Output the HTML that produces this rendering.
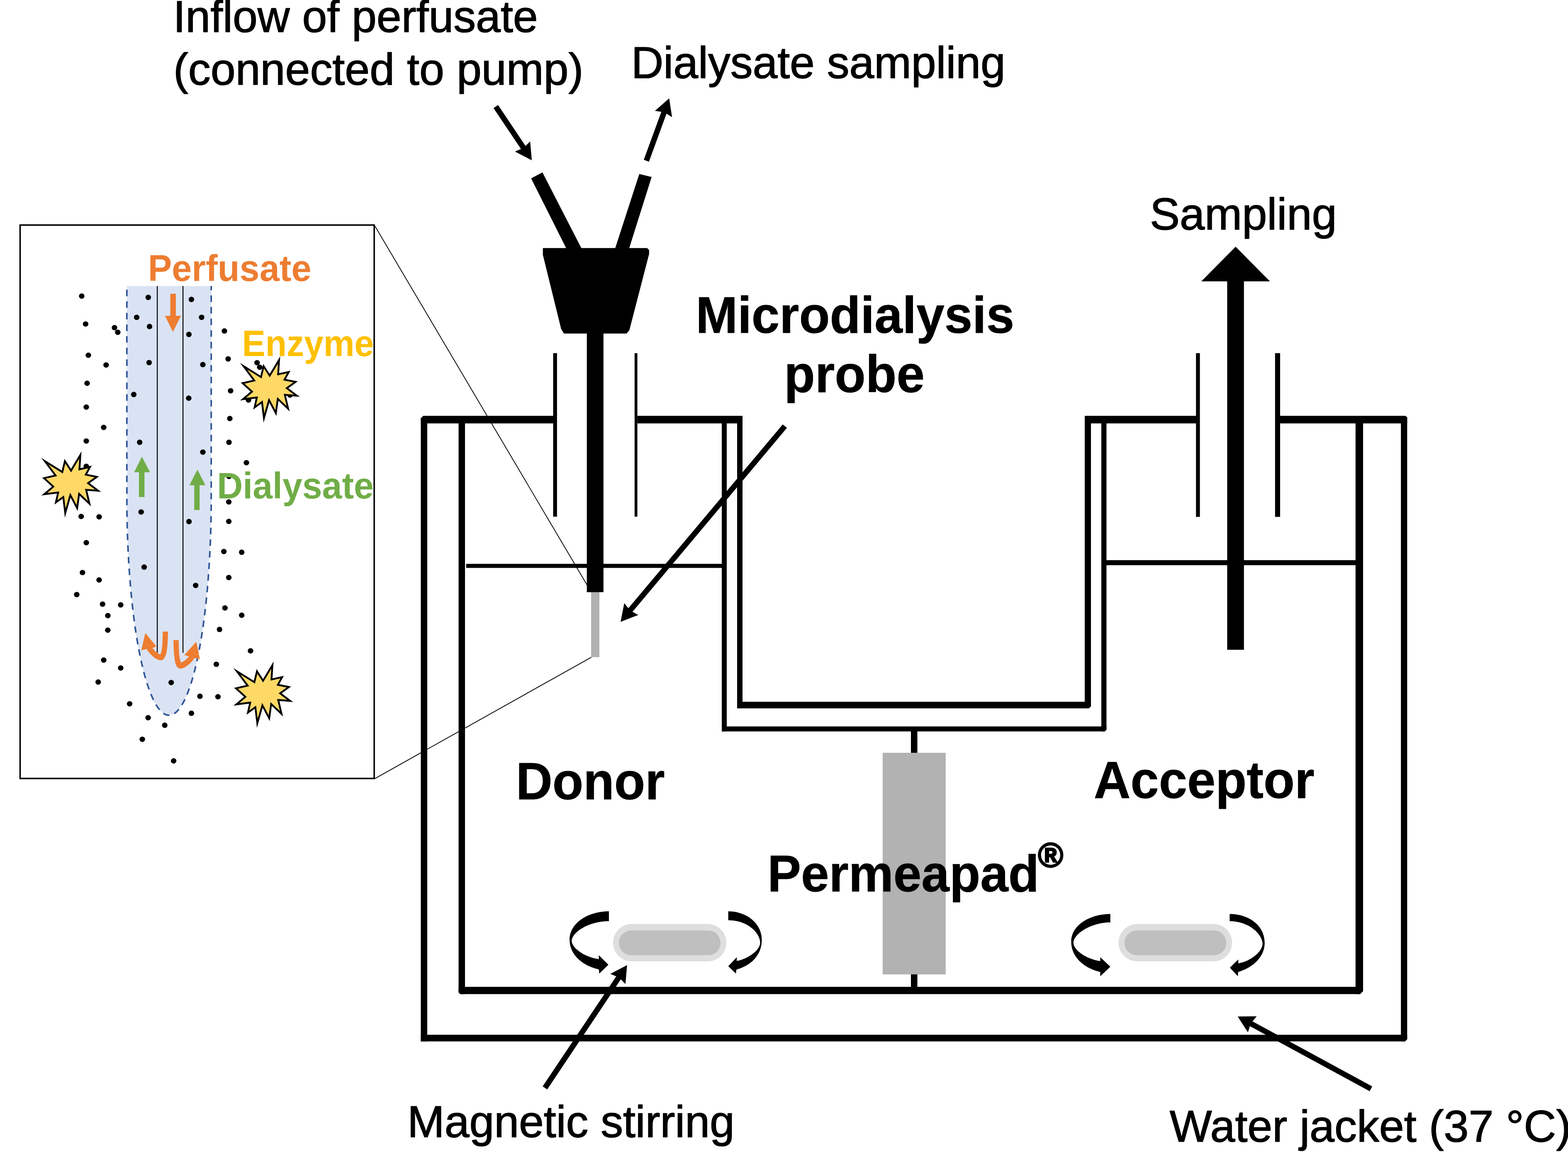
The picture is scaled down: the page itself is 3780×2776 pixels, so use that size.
<!DOCTYPE html>
<html lang="en"><head><meta charset="utf-8"><title>Microdialysis probe in side-by-side diffusion cell</title>
<style>
html,body{margin:0;padding:0;background:#fff;}
html,body{width:3780px;height:2776px;}
svg{display:block;font-family:'Liberation Sans', Arial, Helvetica, sans-serif;}
</style></head><body>
<svg width="3780" height="2776" viewBox="0 0 3780 2776">
<rect width="3780" height="2776" fill="#fff"/>
<g id="inset">
<line x1="904" y1="545" x2="1425.5" y2="1427" stroke="#000" stroke-width="1.9"/>
<line x1="903.5" y1="1876.3" x2="1425.5" y2="1583.8" stroke="#000" stroke-width="1.9"/>
<rect x="48.5" y="542.3" width="853.6" height="1333.6" fill="#fff" stroke="#000" stroke-width="3.6"/>
<path d="M305.8,689.2 L305.8,1200 A101.7,523.6 0 0 0 509.2,1200 L509.2,689.2 Z" fill="#dae3f3"/>
<path d="M305.8,689.2 L305.8,1200 A101.7,523.6 0 0 0 509.2,1200 L509.2,689.2" fill="none" stroke="#2f5597" stroke-width="3.8" stroke-dasharray="15.6 12.4" stroke-dashoffset="19.1"/>
<line x1="379.1" y1="689.2" x2="379.1" y2="1572.5" stroke="#000" stroke-width="2.3"/>
<line x1="441.1" y1="689.2" x2="441.1" y2="1573" stroke="#000" stroke-width="2.3"/>
<g fill="#000">
<ellipse cx="197.0" cy="713.5" rx="6.7" ry="6.5"/>
<ellipse cx="357.4" cy="716.6" rx="6.7" ry="6.5"/>
<ellipse cx="461.4" cy="721.6" rx="6.7" ry="6.5"/>
<ellipse cx="329.5" cy="764.7" rx="6.7" ry="6.5"/>
<ellipse cx="486.0" cy="764.7" rx="6.7" ry="6.5"/>
<ellipse cx="206.4" cy="780.7" rx="6.7" ry="6.5"/>
<ellipse cx="276.0" cy="789.6" rx="6.7" ry="6.5"/>
<ellipse cx="283.9" cy="800.7" rx="6.7" ry="6.5"/>
<ellipse cx="360.5" cy="786.8" rx="6.7" ry="6.5"/>
<ellipse cx="455.4" cy="805.8" rx="6.7" ry="6.5"/>
<ellipse cx="541.0" cy="797.6" rx="6.7" ry="6.5"/>
<ellipse cx="213.0" cy="856.0" rx="6.7" ry="6.5"/>
<ellipse cx="255.8" cy="879.4" rx="6.7" ry="6.5"/>
<ellipse cx="359.4" cy="873.7" rx="6.7" ry="6.5"/>
<ellipse cx="489.0" cy="878.6" rx="6.7" ry="6.5"/>
<ellipse cx="550.0" cy="864.8" rx="6.7" ry="6.5"/>
<ellipse cx="619.7" cy="874.0" rx="6.7" ry="6.5"/>
<ellipse cx="626.0" cy="885.0" rx="6.7" ry="6.5"/>
<ellipse cx="210.0" cy="923.5" rx="6.7" ry="6.5"/>
<ellipse cx="322.5" cy="950.6" rx="6.7" ry="6.5"/>
<ellipse cx="455.0" cy="959.5" rx="6.7" ry="6.5"/>
<ellipse cx="556.0" cy="941.7" rx="6.7" ry="6.5"/>
<ellipse cx="599.0" cy="964.0" rx="6.7" ry="6.5"/>
<ellipse cx="699.0" cy="952.0" rx="6.7" ry="6.5"/>
<ellipse cx="208.0" cy="981.0" rx="6.7" ry="6.5"/>
<ellipse cx="554.0" cy="1008.5" rx="6.7" ry="6.5"/>
<ellipse cx="250.0" cy="1030.0" rx="6.7" ry="6.5"/>
<ellipse cx="208.0" cy="1062.7" rx="6.7" ry="6.5"/>
<ellipse cx="336.7" cy="1065.8" rx="6.7" ry="6.5"/>
<ellipse cx="552.0" cy="1065.8" rx="6.7" ry="6.5"/>
<ellipse cx="489.0" cy="1089.4" rx="6.7" ry="6.5"/>
<ellipse cx="594.0" cy="1115.0" rx="6.7" ry="6.5"/>
<ellipse cx="208.0" cy="1123.7" rx="6.7" ry="6.5"/>
<ellipse cx="552.0" cy="1148.0" rx="6.7" ry="6.5"/>
<ellipse cx="551.6" cy="1209.5" rx="6.7" ry="6.5"/>
<ellipse cx="340.2" cy="1233.7" rx="6.7" ry="6.5"/>
<ellipse cx="195.7" cy="1244.5" rx="6.7" ry="6.5"/>
<ellipse cx="239.0" cy="1245.4" rx="6.7" ry="6.5"/>
<ellipse cx="455.6" cy="1256.8" rx="6.7" ry="6.5"/>
<ellipse cx="551.6" cy="1256.5" rx="6.7" ry="6.5"/>
<ellipse cx="208.0" cy="1307.7" rx="6.7" ry="6.5"/>
<ellipse cx="539.6" cy="1329.0" rx="6.7" ry="6.5"/>
<ellipse cx="582.7" cy="1330.8" rx="6.7" ry="6.5"/>
<ellipse cx="347.5" cy="1366.6" rx="6.7" ry="6.5"/>
<ellipse cx="198.8" cy="1379.7" rx="6.7" ry="6.5"/>
<ellipse cx="238.9" cy="1397.5" rx="6.7" ry="6.5"/>
<ellipse cx="551.6" cy="1391.7" rx="6.7" ry="6.5"/>
<ellipse cx="471.7" cy="1410.7" rx="6.7" ry="6.5"/>
<ellipse cx="185.0" cy="1432.7" rx="6.7" ry="6.5"/>
<ellipse cx="247.3" cy="1455.8" rx="6.7" ry="6.5"/>
<ellipse cx="291.0" cy="1457.6" rx="6.7" ry="6.5"/>
<ellipse cx="542.3" cy="1465.0" rx="6.7" ry="6.5"/>
<ellipse cx="260.0" cy="1483.4" rx="6.7" ry="6.5"/>
<ellipse cx="582.7" cy="1482.5" rx="6.7" ry="6.5"/>
<ellipse cx="259.8" cy="1518.5" rx="6.7" ry="6.5"/>
<ellipse cx="529.2" cy="1516.8" rx="6.7" ry="6.5"/>
<ellipse cx="604.0" cy="1568.3" rx="6.7" ry="6.5"/>
<ellipse cx="250.0" cy="1590.6" rx="6.7" ry="6.5"/>
<ellipse cx="521.5" cy="1600.7" rx="6.7" ry="6.5"/>
<ellipse cx="291.0" cy="1609.7" rx="6.7" ry="6.5"/>
<ellipse cx="236.7" cy="1643.5" rx="6.7" ry="6.5"/>
<ellipse cx="412.7" cy="1644.7" rx="6.7" ry="6.5"/>
<ellipse cx="482.0" cy="1677.8" rx="6.7" ry="6.5"/>
<ellipse cx="525.4" cy="1679.0" rx="6.7" ry="6.5"/>
<ellipse cx="312.5" cy="1696.0" rx="6.7" ry="6.5"/>
<ellipse cx="461.4" cy="1718.8" rx="6.7" ry="6.5"/>
<ellipse cx="357.1" cy="1729.5" rx="6.7" ry="6.5"/>
<ellipse cx="397.2" cy="1747.6" rx="6.7" ry="6.5"/>
<ellipse cx="343.0" cy="1781.4" rx="6.7" ry="6.5"/>
<ellipse cx="418.6" cy="1833.5" rx="6.7" ry="6.5"/>
</g>
<polygon points="650.2,905.1 672.7,867.5 670.5,902.0 696.0,896.4 685.9,914.9 712.5,920.2 691.4,935.4 715.5,953.6 686.7,951.4 694.6,984.8 669.7,961.2 665.0,995.4 648.6,964.3 636.3,1007.5 631.6,968.8 613.8,981.7 619.2,957.8 585.8,962.0 607.5,943.8 585.0,923.3 613.0,916.9 587.2,882.4 629.2,908.5 635.5,882.4" fill="#ffd966" stroke="#000" stroke-width="4.4" stroke-linejoin="miter" stroke-miterlimit="10"/>
<polygon points="171.2,1134.0 193.7,1096.4 191.5,1130.9 217.0,1125.3 206.9,1143.8 233.5,1149.1 212.4,1164.3 236.5,1182.5 207.7,1180.3 215.6,1213.7 190.7,1190.1 186.0,1224.3 169.6,1193.2 157.3,1236.4 152.6,1197.7 134.8,1210.6 140.2,1186.7 106.8,1190.9 128.5,1172.7 106.0,1152.2 134.0,1145.8 108.2,1111.3 150.2,1137.4 156.5,1111.3" fill="#ffd966" stroke="#000" stroke-width="4.4" stroke-linejoin="miter" stroke-miterlimit="10"/>
<polygon points="634.2,1640.4 656.7,1602.8 654.5,1637.3 680.0,1631.7 669.9,1650.2 696.5,1655.5 675.4,1670.7 699.5,1688.9 670.7,1686.7 678.6,1720.1 653.7,1696.5 649.0,1730.7 632.6,1699.6 620.3,1742.8 615.6,1704.1 597.8,1717.0 603.2,1693.1 569.8,1697.3 591.5,1679.1 569.0,1658.6 597.0,1652.2 571.2,1617.7 613.2,1643.8 619.5,1617.7" fill="#ffd966" stroke="#000" stroke-width="4.4" stroke-linejoin="miter" stroke-miterlimit="10"/>
<polygon points="410.6,707.7 423.9,707.7 423.9,760.9 436.2,760.9 416.9,799.8 397.6,760.9 410.6,760.9" fill="#ed7d31" />
<polygon points="342.0,1100.5 361.6,1138.0 348.3,1138.0 348.3,1197.8 335.0,1197.8 335.0,1138.0 323.4,1138.0" fill="#70ad47" />
<polygon points="476.0,1131.4 495.0,1169.3 481.2,1169.3 481.2,1229.1 468.2,1229.1 468.2,1169.3 456.7,1169.3" fill="#70ad47" />
<path d="M405.1,1522 C404.6,1540 404.2,1553 402.7,1563.1 C401.5,1572 400.5,1578 397.8,1582.7 C395.5,1587.5 392.5,1591 388,1591 C381,1591 374,1586.5 368.4,1581.7 C363,1577 358.5,1572 353.3,1564.1 L340.6,1567.3 L350.2,1525.5 L377.2,1557.7 L367.5,1561.2 C370,1564.5 372.5,1567.5 375.3,1570 C379,1573.2 382.5,1575.5 386.5,1577.3 C389,1571 390.2,1565 390.9,1558.2 C391.8,1549 392.2,1536 392.4,1522 Z" fill="#ed7d31"/>
<path d="M418.1,1542.6 C418.4,1558 419,1572 420.3,1582.7 C421.2,1591 422.2,1597.5 424.2,1602.2 C426.5,1607.5 430,1611 434.9,1611 C441,1611 447,1607.5 452.5,1603.2 C458,1598.9 463.5,1593.5 469.2,1585.6 L481.9,1588 L473.1,1546.5 L444.7,1578.3 L455.5,1582.2 C452.8,1585.3 449.8,1588 446.7,1590.5 C443.3,1593.2 440,1595.3 436.4,1596.8 C434,1591 432.7,1585 432,1577.8 C431.2,1568 430.9,1556 430.8,1542.6 Z" fill="#ed7d31"/>
<text transform="translate(356.65,677.40) scale(0.8643,0.8850)" font-size="100" font-weight="bold" fill="#ed7d31">Perfusate</text>
<text transform="translate(583.61,857.90) scale(0.8409,0.8950)" font-size="100" font-weight="bold" fill="#ffc000">Enzyme</text>
<text transform="translate(523.18,1200.50) scale(0.8601,0.8950)" font-size="100" font-weight="bold" fill="#70ad47">Dialysate</text>
</g>
<g id="cell" fill="#000">
<rect x="1014.5" y="1002.0" width="15.5" height="1507.5" fill="#000" />
<rect x="1014.5" y="2493.5" width="2377.8" height="16.0" fill="#000" />
<rect x="3377.2" y="1002.0" width="15.1" height="1507.5" fill="#000" />
<rect x="1014.5" y="1002.0" width="319.5" height="18.3" fill="#000" />
<rect x="1536.5" y="1002.0" width="253.5" height="18.3" fill="#000" />
<rect x="2615.0" y="1002.0" width="269.0" height="18.3" fill="#000" />
<rect x="3085.5" y="1002.0" width="306.8" height="18.3" fill="#000" />
<rect x="1777.0" y="1003.0" width="13.0" height="704.0" fill="#000" />
<rect x="2615.0" y="1003.0" width="15.0" height="704.0" fill="#000" />
<rect x="1777.0" y="1691.0" width="853.0" height="16.0" fill="#000" />
<rect x="1105.5" y="1003.0" width="15.5" height="1392.5" fill="#000" />
<rect x="3267.8" y="1003.0" width="18.2" height="1392.5" fill="#000" />
<rect x="1105.5" y="2378.0" width="2180.5" height="17.5" fill="#000" />
<rect x="1740.0" y="1003.0" width="12.0" height="759.5" fill="#000" />
<rect x="2655.0" y="1003.0" width="12.4" height="759.5" fill="#000" />
<rect x="1740.0" y="1750.5" width="927.4" height="12.0" fill="#000" />
<polygon points="1013.0,1000.5 1022.0,1000.5 1013.0,1009.5" fill="#fff" />
<polygon points="3393.8,1000.5 3386.8,1000.5 3393.8,1007.5" fill="#fff" />
<polygon points="3393.8,2511.0 3385.8,2511.0 3393.8,2503.0" fill="#fff" />
<polygon points="3287.5,2397.0 3277.5,2397.0 3287.5,2387.0" fill="#fff" />
<polygon points="1104.0,2397.0 1111.0,2397.0 1104.0,2390.0" fill="#fff" />
<polygon points="2631.5,1708.5 2623.5,1708.5 2631.5,1700.5" fill="#fff" />
<polygon points="2668.9,1764.0 2661.9,1764.0 2668.9,1757.0" fill="#fff" />
<rect x="1123.8" y="1358.7" width="616.2" height="9.8" fill="#000" />
<rect x="2667.0" y="1349.8" width="601.0" height="12.2" fill="#000" />
<rect x="1333.5" y="851.0" width="9.3" height="394.0" fill="#000" />
<rect x="1529.8" y="851.0" width="6.7" height="394.0" fill="#000" />
<rect x="2883.2" y="851.0" width="9.4" height="394.5" fill="#000" />
<rect x="3073.8" y="851.0" width="12.2" height="394.5" fill="#000" />
<rect x="2196.0" y="1762.0" width="15.5" height="618.0" fill="#000" />
<rect x="2127.8" y="1814.0" width="152.0" height="534.0" fill="#b2b2b2" />
</g>
<g id="probe">
<rect x="1425.0" y="1425.0" width="20.0" height="158.6" fill="#b1b1b1" />
<rect x="1414.7" y="800.0" width="40.1" height="627.0" fill="#000" />
<polygon points="1308.7,597.8 1560.0,597.8 1564.8,602.6 1564.8,612.0 1517.3,795.4 1510.5,803.7 1359.4,803.7 1352.7,792.4 1308.7,614.0" fill="#000" />
<polygon points="1280.3,429.7 1307.7,415.6 1401.8,598.4 1365.1,598.4" fill="#000" />
<polygon points="1541.1,419.2 1570.9,426.6 1516.7,598.4 1483.0,598.4" fill="#000" />
</g>
<g id="sampling">
<polygon points="2978.7,594.4 3061.5,678.0 2998.8,678.0 2998.8,1565.8 2958.4,1565.8 2958.4,678.0 2896.0,678.0" fill="#000" />
</g>
<g id="stir">
<rect x="1477.8" y="2226.6" width="273.2" height="90.2" rx="45.1" fill="#dedede"/>
<rect x="1492" y="2242.3" width="245.0" height="59.4" rx="29.7" fill="#bfbfbf"/>
<rect x="2696.4" y="2226.6" width="273.8" height="90.2" rx="45.1" fill="#dedede"/>
<rect x="2710.7" y="2242.3" width="245.6" height="59.4" rx="29.7" fill="#bfbfbf"/>
<path d="M1467.9,2196.1 C1419.3,2196.1 1373.1,2223.2 1373.1,2264.8 C1373.1,2299.4 1403.2,2327.2 1443.6,2335.9 L1444.8,2346.1 L1466.7,2324.8 L1443.6,2301.7 L1443.6,2311.4 C1410.1,2306.4 1378.9,2285.6 1378.2,2267.1 C1378.9,2246.3 1419.3,2219.7 1467.9,2219.7 Z" fill="#000"/>
<path d="M1755.6,2196.1 C1800.7,2196.1 1836.5,2225.5 1836.5,2264.8 C1836.5,2301.7 1809.9,2327.2 1775.2,2336.4 L1774.1,2346.1 L1755.6,2328.3 L1776.4,2306.4 L1775.9,2315.6 C1803.0,2311.0 1831.9,2290.2 1832.6,2271.7 C1831.9,2246.3 1800.7,2217.4 1755.6,2217.4 Z" fill="#000"/>
<path d="M2676.7,2202.4 C2629.3,2202.4 2582.4,2227.8 2582.4,2269.4 C2582.4,2306.4 2613.2,2332.9 2652.4,2342.2 L2652.4,2352.6 L2676.7,2329.5 L2652.4,2306.4 L2652.4,2316.1 C2620.1,2311.4 2588.2,2290.2 2587.7,2271.7 C2588.2,2250.9 2629.3,2222.7 2676.7,2222.7 Z" fill="#000"/>
<path d="M2964.4,2202.4 C3010.7,2202.4 3048.8,2230.1 3048.8,2271.7 C3048.8,2306.4 3019.9,2331.8 2984.8,2342.2 L2984.1,2352.6 L2964.9,2331.8 L2985.2,2312.1 L2985.2,2321.4 C3013.0,2316.8 3043.0,2294.8 3043.7,2274.0 C3043.0,2250.9 3010.7,2219.7 2964.4,2219.7 Z" fill="#000"/>
</g>
<g id="arrows">
<polygon points="1189.7,260.4 1255.9,359.1 1241.5,365.2 1282.0,386.2 1278.0,340.7 1266.9,351.8 1200.7,253.0" fill="#000" />
<polygon points="1564.4,389.7 1606.7,274.1 1620.1,282.2 1613.2,237.1 1578.8,267.1 1594.3,269.6 1552.0,385.1" fill="#000" />
<polygon points="1886.9,1022.7 1514.7,1465.8 1504.9,1453.6 1496.0,1498.4 1538.6,1481.9 1524.8,1474.3 1897.1,1031.1" fill="#000" />
<polygon points="1319.2,2625.2 1496.6,2360.1 1507.7,2371.2 1511.7,2325.7 1471.2,2346.7 1485.6,2352.8 1308.2,2617.8" fill="#000" />
<polygon points="3308.0,2617.9 3019.4,2461.2 3029.4,2449.1 2983.7,2449.4 3008.4,2487.8 3013.1,2472.8 3301.8,2629.5" fill="#000" />
</g>
<g id="labels">
<text transform="translate(417.42,77.00) scale(1.0760,1.0760)" font-size="100" font-weight="normal" fill="#000" stroke="#000" stroke-width="1.49" stroke-linejoin="round">Inflow of perfusate</text>
<text transform="translate(417.93,204.00) scale(1.0777,1.0777)" font-size="100" font-weight="normal" fill="#000" stroke="#000" stroke-width="1.48" stroke-linejoin="round">(connected to pump)</text>
<text transform="translate(1521.70,187.90) scale(1.0750,1.0750)" font-size="100" font-weight="normal" fill="#000" stroke="#000" stroke-width="1.49" stroke-linejoin="round">Dialysate sampling</text>
<text transform="translate(2771.89,553.20) scale(1.0812,1.0812)" font-size="100" font-weight="normal" fill="#000" stroke="#000" stroke-width="1.48" stroke-linejoin="round">Sampling</text>
<text transform="translate(1677.21,801.50) scale(1.2122,1.2486)" font-size="100" font-weight="bold" fill="#000" stroke="#000" stroke-width="0.66" stroke-linejoin="round">Microdialysis</text>
<text transform="translate(1890.26,945.20) scale(1.2195,1.2561)" font-size="100" font-weight="bold" fill="#000" stroke="#000" stroke-width="0.66" stroke-linejoin="round">probe</text>
<text transform="translate(1243.77,1925.50) scale(1.2189,1.2554)" font-size="100" font-weight="bold" fill="#000" stroke="#000" stroke-width="0.66" stroke-linejoin="round">Donor</text>
<text transform="translate(2636.72,1923.20) scale(1.2277,1.2646)" font-size="100" font-weight="bold" fill="#000" stroke="#000" stroke-width="0.65" stroke-linejoin="round">Acceptor</text>
<text transform="translate(1849.89,2147.80) scale(1.2150,1.2515)" font-size="100" font-weight="bold" fill="#000" stroke="#000" stroke-width="0.66" stroke-linejoin="round">Permeapad</text>
<text transform="translate(2502.35,2089.20) scale(0.8271,0.8271)" font-size="100" font-weight="bold" fill="#000" stroke="#000" stroke-width="3.63" stroke-linejoin="round">®</text>
<text transform="translate(982.10,2740.00) scale(1.0751,1.0751)" font-size="100" font-weight="normal" fill="#000" stroke="#000" stroke-width="1.49" stroke-linejoin="round">Magnetic stirring</text>
<text transform="translate(2819.72,2751.00) scale(1.0780,1.0780)" font-size="100" font-weight="normal" fill="#000" stroke="#000" stroke-width="1.48" stroke-linejoin="round">Water jacket (37 °C)</text>
</g>
</svg>
</body></html>
